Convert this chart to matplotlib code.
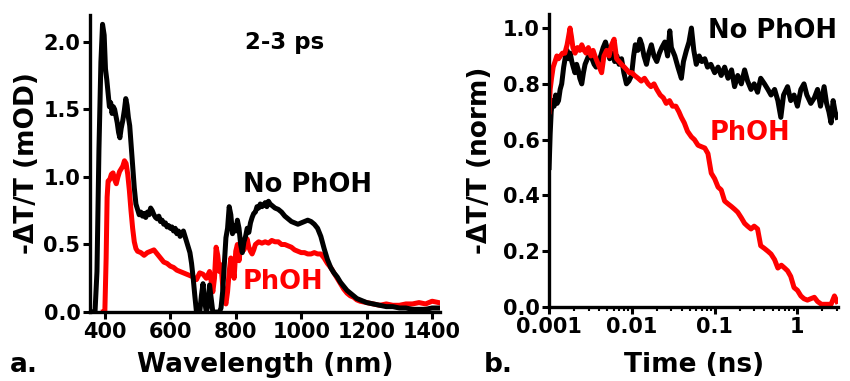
import numpy as np
import matplotlib
matplotlib.use('Agg')
import matplotlib.pyplot as plt
from matplotlib.ticker import FixedLocator, FuncFormatter, LogLocator, NullFormatter

plt.rcParams['font.family'] = 'DejaVu Sans'
plt.rcParams['font.weight'] = 'bold'

# ---- panel a: spectra at 2-3 ps ----
wl_nophoh = [360, 370, 376, 382, 388, 393, 398, 402, 406, 410, 414, 418, 422, 426, 430,
             434, 438, 442, 446, 450, 455, 460, 464, 468, 472, 476, 480, 485, 490, 495,
             500, 505, 510, 515, 520, 525, 530, 535, 540, 545, 550, 555, 560, 565, 570,
             575, 580, 585, 590, 595, 600, 605, 610, 615, 620, 625, 630, 635, 640, 645,
             650, 655, 660, 665, 670, 675, 680, 690, 695, 700, 705, 710, 715, 720, 725,
             730, 750, 755, 760, 765, 770, 775, 780, 785, 790, 795, 800, 805, 810, 815,
             820, 825, 830, 835, 840, 845, 850, 855, 860, 865, 870, 875, 880, 885, 890,
             895, 900, 905, 910, 920, 930, 940, 950, 960, 970, 980, 990, 1000, 1010, 1020,
             1030, 1040, 1050, 1060, 1070, 1080, 1090, 1100, 1110, 1120, 1130, 1140, 1150,
             1160, 1170, 1180, 1190, 1200, 1220, 1240, 1260, 1280, 1300, 1320, 1340, 1360,
             1380, 1400, 1420]
od_nophoh = [0.0, 0.0, 0.3, 1.2, 1.85, 2.13, 2.05, 1.80, 1.72, 1.62, 1.52, 1.55, 1.47, 1.52, 1.50,
             1.45, 1.40, 1.33, 1.29, 1.36, 1.42, 1.50, 1.58, 1.53, 1.44, 1.38, 1.25, 1.08, 0.92, 0.80,
             0.76, 0.72, 0.74, 0.71, 0.73, 0.70, 0.74, 0.72, 0.77, 0.75, 0.72, 0.70, 0.69, 0.71, 0.67,
             0.68, 0.65, 0.66, 0.63, 0.64, 0.62, 0.63, 0.60, 0.62, 0.58, 0.60, 0.56, 0.58, 0.60, 0.56,
             0.52, 0.48, 0.44, 0.36, 0.25, 0.12, 0.0, 0.0, 0.12, 0.21, 0.08, 0.0, 0.05, 0.20, 0.10,
             0.0, 0.0, 0.03, 0.15, 0.35, 0.55, 0.62, 0.78, 0.72, 0.58, 0.64, 0.60, 0.68, 0.62, 0.50,
             0.44, 0.52, 0.56, 0.62, 0.59, 0.66, 0.70, 0.73, 0.74, 0.78, 0.77, 0.80, 0.78, 0.79, 0.81,
             0.78, 0.82, 0.80, 0.79, 0.77, 0.76, 0.74, 0.71, 0.69, 0.67, 0.66, 0.65, 0.66, 0.67, 0.68,
             0.67, 0.65, 0.62, 0.56, 0.47, 0.39, 0.33, 0.29, 0.26, 0.22, 0.19, 0.16, 0.14,
             0.12, 0.10, 0.09, 0.08, 0.07, 0.06, 0.05, 0.04, 0.04, 0.03, 0.03, 0.02, 0.02,
             0.02, 0.03, 0.03]

wl_phoh = [395, 400, 404, 407, 410, 415, 420, 425, 430, 435, 440, 445, 450, 455, 460,
           465, 470, 475, 480, 485, 490, 495, 500, 510, 520, 530, 540, 550, 560, 570,
           580, 590, 600, 610, 620, 630, 640, 650, 660, 670, 680, 690, 700, 710, 720,
           730, 735, 740, 745, 750, 755, 760, 765, 770, 775, 780, 785, 790, 795, 800,
           805, 810, 815, 820, 825, 830, 835, 840, 845, 850, 855, 860, 870, 880, 890,
           900, 910, 920, 930, 940, 950, 960, 970, 980, 990, 1000, 1010, 1020, 1030, 1040,
           1050, 1060, 1070, 1080, 1090, 1100, 1110, 1120, 1130, 1140, 1150, 1160, 1170, 1180,
           1200, 1220, 1240, 1260, 1280, 1300, 1320, 1340, 1360, 1380, 1400, 1420]
od_phoh = [0.0, 0.0, 0.4, 0.85, 0.97, 0.98, 1.02, 1.03, 0.98, 0.95, 1.00, 1.04, 1.06, 1.08, 1.12,
           1.10, 1.02, 0.90, 0.75, 0.62, 0.52, 0.47, 0.45, 0.44, 0.42, 0.44, 0.45, 0.46, 0.43, 0.40,
           0.37, 0.36, 0.34, 0.33, 0.31, 0.30, 0.29, 0.28, 0.27, 0.26, 0.24, 0.29, 0.28, 0.25, 0.30,
           0.15, 0.25, 0.48, 0.42, 0.30, 0.35, 0.20, 0.10, 0.06, 0.15, 0.30, 0.40, 0.35, 0.25, 0.45,
           0.50, 0.38, 0.48, 0.52, 0.46, 0.50, 0.54, 0.48, 0.45, 0.43, 0.46, 0.50, 0.52, 0.51, 0.52,
           0.51, 0.53, 0.52, 0.52, 0.50, 0.50, 0.49, 0.48, 0.46, 0.45, 0.44, 0.44, 0.43, 0.43, 0.44,
           0.43, 0.43, 0.40, 0.36, 0.33, 0.29, 0.25, 0.21, 0.17, 0.14, 0.12, 0.11, 0.09, 0.08,
           0.07, 0.06, 0.05, 0.06, 0.05, 0.05, 0.06, 0.06, 0.07, 0.06, 0.08, 0.07]

# ---- panel b: normalised kinetics ----
t_nophoh = [0.00100, 0.00103, 0.00106, 0.00110, 0.00115, 0.00120, 0.00125, 0.00130, 0.00136, 0.00142,
            0.00150, 0.00158, 0.00165, 0.00172, 0.00180, 0.00188, 0.00196, 0.00205, 0.00215, 0.00225,
            0.00235, 0.00248, 0.00260, 0.00272, 0.00290, 0.00310, 0.00330, 0.00350, 0.00370, 0.00395,
            0.00420, 0.00450, 0.00480, 0.00510, 0.00540, 0.00580, 0.00620, 0.00660, 0.00700, 0.00750,
            0.00800, 0.00860, 0.00920, 0.00990, 0.0105, 0.0110, 0.0118, 0.0125, 0.0132, 0.0140,
            0.0150, 0.0160, 0.0172, 0.0185, 0.0200, 0.0215, 0.0230, 0.0250, 0.0270, 0.0287,
            0.0300, 0.0330, 0.0360, 0.0396, 0.0420, 0.0456, 0.0490, 0.0524, 0.0560, 0.0600,
            0.0650, 0.0700, 0.0760, 0.0820, 0.0900, 0.100, 0.110, 0.120, 0.132, 0.145,
            0.160, 0.174, 0.190, 0.210, 0.230, 0.250, 0.275, 0.300, 0.330, 0.360,
            0.400, 0.440, 0.480, 0.530, 0.580, 0.630, 0.680, 0.760, 0.830, 0.910,
            1.00, 1.10, 1.20, 1.30, 1.45, 1.60, 1.75, 1.90, 2.10, 2.25,
            2.40, 2.55, 2.70, 2.85, 3.00]
n_nophoh = [0.50, 0.62, 0.70, 0.74, 0.72, 0.76, 0.73, 0.74, 0.78, 0.80,
            0.86, 0.90, 0.92, 0.89, 0.91, 0.88, 0.86, 0.84, 0.87, 0.85,
            0.82, 0.80, 0.84, 0.87, 0.89, 0.91, 0.89, 0.87, 0.86, 0.88,
            0.90, 0.93, 0.95, 0.92, 0.89, 0.91, 0.88, 0.90, 0.87, 0.89,
            0.84, 0.80, 0.81, 0.83, 0.90, 0.94, 0.92, 0.96, 0.94, 0.90,
            0.87, 0.91, 0.94, 0.90, 0.88, 0.91, 0.93, 0.95, 0.90, 0.99,
            0.93, 0.90, 0.86, 0.82, 0.88, 0.92, 0.95, 1.00, 0.92, 0.87,
            0.90, 0.88, 0.89, 0.86, 0.87, 0.84, 0.86, 0.83, 0.86, 0.82,
            0.85, 0.79, 0.83, 0.80, 0.85, 0.81, 0.78, 0.80, 0.77, 0.82,
            0.80, 0.78, 0.76, 0.78, 0.74, 0.68, 0.76, 0.79, 0.74, 0.76,
            0.72, 0.78, 0.80, 0.76, 0.73, 0.75, 0.78, 0.72, 0.79, 0.73,
            0.70, 0.66, 0.74, 0.70, 0.68]

t_phoh = [0.00100, 0.00103, 0.00107, 0.00112, 0.00118, 0.00124, 0.00130, 0.00137, 0.00145, 0.00155,
          0.00165, 0.00172, 0.00179, 0.00186, 0.00194, 0.00206, 0.00220, 0.00235, 0.00248, 0.00265,
          0.00280, 0.00298, 0.00320, 0.00340, 0.00358, 0.00380, 0.00405, 0.00431, 0.00460, 0.00495,
          0.00530, 0.00569, 0.00610, 0.00654, 0.00700, 0.00750, 0.00810, 0.00870, 0.00930, 0.0100,
          0.0108, 0.0119, 0.0130, 0.0142, 0.0157, 0.0170, 0.0185, 0.0200, 0.0220, 0.0240,
          0.0260, 0.0285, 0.0310, 0.0340, 0.0370, 0.0396, 0.0430, 0.0470, 0.0524, 0.0570,
          0.0630, 0.0690, 0.0760, 0.0830, 0.0910, 0.100, 0.110, 0.120, 0.132, 0.145,
          0.160, 0.175, 0.190, 0.210, 0.230, 0.250, 0.275, 0.300, 0.330, 0.360,
          0.400, 0.440, 0.480, 0.530, 0.580, 0.640, 0.700, 0.760, 0.830, 0.910,
          1.00, 1.10, 1.20, 1.32, 1.45, 1.60, 1.75, 1.95, 2.20, 2.55,
          2.80, 3.00]
n_phoh = [0.70, 0.78, 0.82, 0.86, 0.88, 0.90, 0.89, 0.90, 0.91, 0.91,
          0.94, 0.97, 1.00, 0.97, 0.93, 0.91, 0.93, 0.92, 0.94, 0.92,
          0.91, 0.93, 0.90, 0.92, 0.90, 0.88, 0.86, 0.84, 0.90, 0.92,
          0.90, 0.94, 0.96, 0.89, 0.88, 0.87, 0.86, 0.85, 0.84, 0.84,
          0.83, 0.82, 0.81, 0.82, 0.80, 0.79, 0.80, 0.78, 0.76, 0.75,
          0.73, 0.74, 0.72, 0.72, 0.70, 0.68, 0.66, 0.63, 0.61, 0.60,
          0.58, 0.575, 0.57, 0.55, 0.48, 0.46, 0.43, 0.42, 0.38, 0.37,
          0.36, 0.35, 0.34, 0.32, 0.30, 0.29, 0.28, 0.29, 0.28, 0.22,
          0.21, 0.20, 0.19, 0.17, 0.14, 0.15, 0.14, 0.13, 0.11, 0.07,
          0.06, 0.04, 0.03, 0.025, 0.03, 0.035, 0.02, 0.01, 0.01, 0.01,
          0.04, 0.02]

RED = '#ff0000'
LW = 3.6
TICKFS = 15
LABFS = 19
TXTFS = 18.5

W, H = 850.0, 381.0


def px(x, y):
    # pixel position (from top-left) -> figure fraction
    return x / W, 1 - y / H


fig = plt.figure(figsize=(8.5, 3.81), dpi=100)
ax1 = fig.add_axes([0.106, 0.181, 0.412, 0.78])
ax2 = fig.add_axes([0.646, 0.194, 0.340, 0.769])

for ax in (ax1, ax2):
    for s in ('top', 'right'):
        ax.spines[s].set_visible(False)
    for s in ('left', 'bottom'):
        ax.spines[s].set_linewidth(2.4)
    ax.tick_params(which='major', direction='out', length=5, width=2.2, labelsize=TICKFS, pad=2)
    ax.tick_params(which='minor', direction='out', length=3, width=1.5)

# panel a
ax1.plot(wl_phoh, od_phoh, color=RED, lw=LW)
ax1.plot(wl_nophoh, od_nophoh, color='black', lw=LW)
ax1.set_xlim(355, 1425)
ax1.set_ylim(0, 2.2)
ax1.set_xticks([400, 600, 800, 1000, 1200, 1400])
ax1.set_yticks([0.0, 0.5, 1.0, 1.5, 2.0])
ax1.yaxis.set_major_formatter(FuncFormatter(lambda v, p: '%.1f' % v))
ax1.set_xlabel('Wavelength (nm)', fontsize=LABFS, fontweight='bold')
ax1.set_ylabel('-\u0394T/T (mOD)', fontsize=LABFS, fontweight='bold')
ax1.xaxis.set_label_coords(0.5, -0.135)
ax1.yaxis.set_label_coords(-0.143, 0.5)

# panel b
ax2.plot(t_nophoh, n_nophoh, color='black', lw=LW)
ax2.plot(t_phoh, n_phoh, color=RED, lw=LW)
ax2.set_xscale('log')
ax2.set_xlim(0.001, 3.1)
ax2.set_ylim(0, 1.05)
ax2.xaxis.set_major_locator(FixedLocator([0.001, 0.01, 0.1, 1]))
ax2.xaxis.set_major_formatter(FuncFormatter(lambda v, p: '%g' % v))
ax2.xaxis.set_minor_locator(LogLocator(base=10, subs=np.arange(2, 10)))
ax2.xaxis.set_minor_formatter(NullFormatter())
ax2.set_yticks([0.0, 0.2, 0.4, 0.6, 0.8, 1.0])
ax2.yaxis.set_major_formatter(FuncFormatter(lambda v, p: '%.1f' % v))
ax2.set_xlabel('Time (ns)', fontsize=LABFS, fontweight='bold')
ax2.set_ylabel('-\u0394T/T (norm)', fontsize=LABFS, fontweight='bold')
ax2.xaxis.set_label_coords(0.5, -0.154)
ax2.yaxis.set_label_coords(-0.194, 0.5)

for ax in (ax1, ax2):
    for lab in ax.get_xticklabels() + ax.get_yticklabels():
        lab.set_fontweight('bold')

# annotations
fig.text(*px(285, 43), '2-3 ps', fontsize=16.5, fontweight='bold', ha='center', va='center')
fig.text(*px(243, 185), 'No PhOH', fontsize=TXTFS, fontweight='bold', ha='left', va='center')
fig.text(*px(243, 282), 'PhOH', fontsize=TXTFS, fontweight='bold', color=RED, ha='left', va='center')
fig.text(*px(708, 31), 'No PhOH', fontsize=TXTFS, fontweight='bold', ha='left', va='center')
fig.text(*px(710, 133), 'PhOH', fontsize=TXTFS, fontweight='bold', color=RED, ha='left', va='center')

fig.text(*px(10, 365), 'a.', fontsize=19, fontweight='bold', ha='left', va='center')
fig.text(*px(484, 365), 'b.', fontsize=19, fontweight='bold', ha='left', va='center')

fig.savefig('out.png', dpi=100)
